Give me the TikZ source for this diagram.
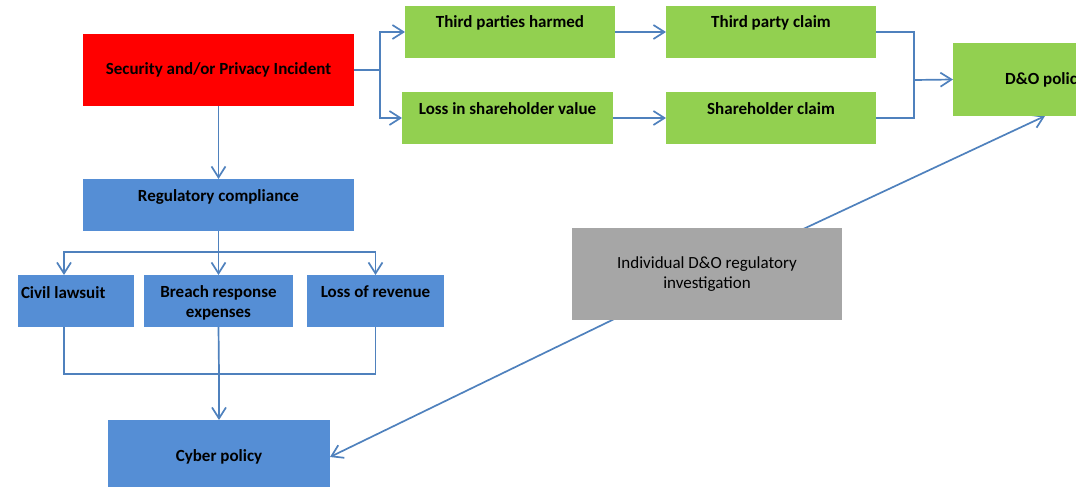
\documentclass[tikz,border=0pt]{standalone}
\usepackage{fontspec}
\setmainfont{Carlito}
\usetikzlibrary{arrows.meta}
\pgfdeclarelayer{background}
\pgfsetlayers{background,main}
\definecolor{cline}{RGB}{79,129,189}
\definecolor{cred}{RGB}{255,0,0}
\definecolor{cgreen}{RGB}{146,208,80}
\definecolor{cblue}{RGB}{85,142,213}
\definecolor{cgray}{RGB}{166,166,166}
\newcommand{\tbox}[3]{\parbox[c][#2pt][t]{#1pt}{\centering\rule{0pt}{22pt}#3\par}}
\newcommand{\lbox}[3]{\parbox[c][#2pt][t]{#1pt}{\raggedright\hspace*{3pt}\rule{0pt}{23pt}#3\par}}
\tikzset{
  box/.style={inner sep=0pt, outer sep=0pt, anchor=north west, text=black,
    font=\bfseries\fontsize{17}{20}\selectfont},
  cbox/.style={box, align=center},
  conn/.style={draw=cline, line width=1.7pt, -{Straight Barb[length=11pt,width=14pt,line width=1.7pt]}},
  plain/.style={draw=cline, line width=1.7pt}
}
\begin{document}
\begin{tikzpicture}[x=1pt,y=-1pt]
\clip (0,0) rectangle (1076,487);
% nodes
\node[cbox, fill=cred, minimum width=271pt, minimum height=72pt] (inc) at (83,34) {Security and/or Privacy Incident};
\node[box, fill=cgreen] (tph) at (405,6) {\tbox{210}{52}{Third parties harmed}};
\node[box, fill=cgreen] (lsv) at (402,92) {\tbox{211}{52}{Loss in shareholder value}};
\node[box, fill=cgreen] (tpc) at (666,6) {\tbox{210}{52}{Third party claim}};
\node[box, fill=cgreen] (shc) at (666,92) {\tbox{210}{52}{Shareholder claim}};
\node[cbox, fill=cgreen, minimum width=184pt, minimum height=73pt] (dno) at (953,43) {D\&O policy};
\node[box, fill=cblue] (reg) at (83,179) {\tbox{271}{52}{Regulatory compliance}};
\node[box, fill=cblue] (civ) at (18,275) {\lbox{116}{52}{Civil lawsuit}};
\node[box, fill=cblue] (bre) at (144,275) {\tbox{149}{52}{Breach response\\expenses}};
\node[box, fill=cblue] (lor) at (307,275) {\tbox{137}{52}{Loss of revenue}};
\node[cbox, fill=cblue, minimum width=222pt, minimum height=74pt] (cyb) at (108,420) {Cyber policy};
\node[cbox, fill=cgray, minimum width=270pt, minimum height=92pt, font=\fontsize{17}{20}\selectfont] (inv) at (572,228) {Individual D\&O regulatory\\investigation};
% helper coordinates
\coordinate (split1) at (380,70);
\coordinate (join1) at (914,80);
\coordinate (split2) at (219,252);
\coordinate (civin) at (64,275);
\coordinate (civout) at (64,327);
\coordinate (join2) at (219,374);
% connectors
\draw[plain] (inc.east) -- (split1);
\draw[conn] (split1) |- (tph.west);
\draw[conn] (split1) |- (lsv.west);
\draw[conn] (tph.east) -- (tpc.west);
\draw[conn] (lsv.east) -- (shc.west);
\draw[plain] (tpc.east) -| (join1);
\draw[plain] (shc.east) -| (join1);
\draw[conn] (join1) -- (dno.west);
\draw[conn] (inc.south) -- (reg.north);
\draw[conn] (reg.south) -- (bre.north);
\draw[conn] (split2) -| (civin);
\draw[conn] (split2) -| (lor.north);
\draw[plain] (civout) |- (join2);
\draw[plain] (lor.south) |- (join2);
\draw[plain] (bre.south) -- (join2);
\draw[conn, line width=2.2pt] (join2) -- (cyb.north);
\begin{pgfonlayer}{background}
\draw[conn] (inv.center) -- (dno.south);
\draw[conn] (inv.center) -- (cyb.east);
\end{pgfonlayer}
\end{tikzpicture}
\end{document}
